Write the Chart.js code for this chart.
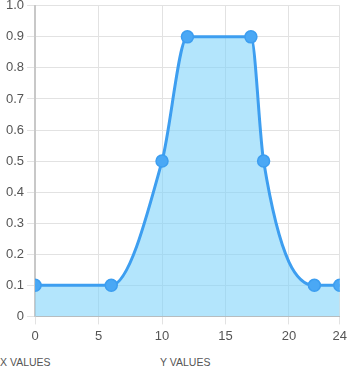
<!DOCTYPE html>
<html>
<head>
<meta charset="utf-8">
<script src="https://cdn.jsdelivr.net/npm/chart.js@4.4.0/dist/chart.umd.min.js"></script>
<style>
  html, body { margin: 0; padding: 0; background: #fff; overflow: hidden; }
  #wrap { position: relative; width: 351px; height: 375px; overflow: hidden; }
  #c { position: absolute; left: 0; top: -5px; }
  .lbl { position: absolute; top: 356px; font-family: "Liberation Sans", Arial, sans-serif; font-size: 10.5px; color: #555; }
</style>
</head>
<body>
<div id="wrap">
  <canvas id="c" width="351" height="353"></canvas>
  <div class="lbl" style="left:0px;">X VALUES</div>
  <div class="lbl" style="left:160px;">Y VALUES</div>
</div>
<script>
const xValues = [0, 6, 10, 12, 17, 18, 22, 24];
const yValues = [0.1, 0.1, 0.5, 0.9, 0.9, 0.5, 0.1, 0.1];
const xTicks = [0, 5, 10, 15, 20, 24];
const yTicks = [0, 0.1, 0.2, 0.3, 0.4, 0.5, 0.6, 0.7, 0.8, 0.9, 1.0];

const points = xValues.map((x, i) => ({ x: x, y: yValues[i] }));
const font = { family: "'Liberation Sans', Arial, sans-serif", size: 13 };

new Chart(document.getElementById('c'), {
  type: 'line',
  data: {
    datasets: [{
      data: points,
      borderColor: '#3d9ef0',
      borderWidth: 3,
      backgroundColor: 'rgba(129, 212, 250, 0.6)',
      fill: 'origin',
      cubicInterpolationMode: 'monotone',
      pointRadius: 6,
      pointBackgroundColor: '#4aa8f5',
      pointBorderColor: '#3d9ef0',
      pointBorderWidth: 1.5
    }]
  },
  options: {
    responsive: false,
    animation: false,
    layout: { padding: { left: 3, right: 6, top: 0, bottom: 0 } },
    plugins: { legend: { display: false }, tooltip: { enabled: false } },
    scales: {
      x: {
        type: 'linear',
        min: 0, max: 24,
        afterBuildTicks: (axis) => { axis.ticks = xTicks.map(v => ({ value: v })); },
        ticks: { color: '#555', font: font, maxRotation: 0, padding: 4 },
        grid: { color: '#e2e2e2', tickLength: 8 },
        border: { color: '#bbb', width: 1 }
      },
      y: {
        min: 0, max: 1,
        afterBuildTicks: (axis) => { axis.ticks = yTicks.map(v => ({ value: v })); },
        ticks: {
          color: '#555', font: font, padding: 3,
          callback: (v) => (v === 0 ? '0' : v.toFixed(1))
        },
        grid: { color: '#e2e2e2', tickLength: 8 },
        border: { color: '#c8c8c8', width: 2 }
      }
    }
  }
});
</script>
</body>
</html>
